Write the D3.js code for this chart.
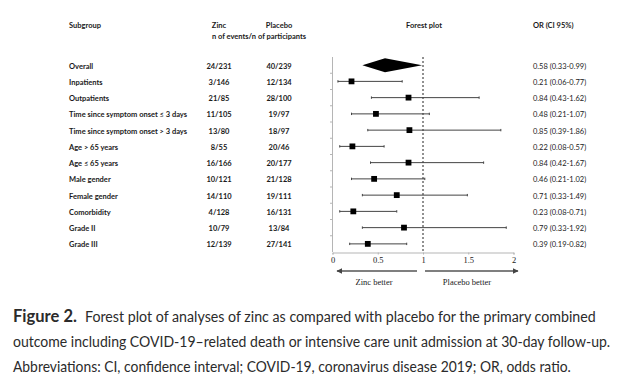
<!DOCTYPE html>
<html><head><meta charset="utf-8">
<script src="https://cdn.jsdelivr.net/npm/d3@7"></script>
<style>
html,body{margin:0;padding:0;background:#fff;}
svg{display:block;}
</style></head>
<body>
<script>
const subgroups = ["Overall","Inpatients","Outpatients","Time since symptom onset ≤ 3 days","Time since symptom onset > 3 days","Age > 65 years","Age ≤ 65 years","Male gender","Female gender","Comorbidity","Grade II","Grade III"];
const zincEvents = ["24/231","3/146","21/85","11/105","13/80","8/55","16/166","10/121","14/110","4/128","10/79","12/139"];
const placeboEvents = ["40/239","12/134","28/100","19/97","18/97","20/46","20/177","21/128","19/111","16/131","13/84","27/141"];
const oddsRatio = [0.58,0.21,0.84,0.48,0.85,0.22,0.84,0.46,0.71,0.23,0.79,0.39];
const ciLow = [0.33,0.06,0.43,0.21,0.39,0.08,0.42,0.21,0.33,0.08,0.33,0.19];
const ciHigh = [0.99,0.77,1.62,1.07,1.86,0.57,1.67,1.02,1.49,0.71,1.92,0.82];
const xTicks = [0,0.5,1,1.5,2];
const captionLines = [
  "Forest plot of analyses of zinc as compared with placebo for the primary combined",
  "outcome including COVID-19–related death or intensive care unit admission at 30-day follow-up.",
  "Abbreviations: CI, confidence interval; COVID-19, coronavirus disease 2019; OR, odds ratio."
];

const W = 632, H = 381;
const svg = d3.select("body").append("svg").attr("width", W).attr("height", H);

const x = d3.scaleLinear().domain([0, 2]).range([332.5, 513.5]);
const y = d3.scaleBand().domain(subgroups).range([57, 252]).padding(0);
const yc = d => y(d) + y.bandwidth() / 2;

const tableFont = "Lato, 'Open Sans', sans-serif";
const serif = "'Liberation Serif', 'DejaVu Serif', serif";
const fmt = d3.format(".2f");
const ink = "#1a1a1a";

// headers
const hdr = svg.append("g").attr("font-family", tableFont).attr("font-weight", "bold")
  .attr("font-size", 7.5).attr("fill", ink);
hdr.append("text").attr("x", 69).attr("y", 28).text("Subgroup");
hdr.append("text").attr("x", 219).attr("y", 28).attr("text-anchor", "middle").text("Zinc");
hdr.append("text").attr("x", 279).attr("y", 28).attr("text-anchor", "middle").text("Placebo");
hdr.append("text").attr("x", 259).attr("y", 39).attr("text-anchor", "middle").text("n of events/n of participants");
hdr.append("text").attr("x", 424).attr("y", 28).attr("text-anchor", "middle").text("Forest plot");
hdr.append("text").attr("x", 533).attr("y", 28).text("OR (CI 95%)");

// table rows
const rows = svg.append("g").attr("font-family", tableFont).attr("font-size", 7.5).attr("fill", ink);
rows.selectAll("text.lab").data(subgroups).join("text").attr("class", "lab")
  .attr("x", 69).attr("y", d => yc(d) + 3.5).attr("font-weight", "bold").text(d => d);
rows.selectAll("text.z").data(subgroups).join("text").attr("class", "z")
  .attr("x", 219).attr("y", d => yc(d) + 3.5).attr("text-anchor", "middle").attr("font-weight", "bold")
  .text((d, i) => zincEvents[i]);
rows.selectAll("text.p").data(subgroups).join("text").attr("class", "p")
  .attr("x", 279).attr("y", d => yc(d) + 3.5).attr("text-anchor", "middle").attr("font-weight", "bold")
  .text((d, i) => placeboEvents[i]);
rows.selectAll("text.or").data(subgroups).join("text").attr("class", "or")
  .attr("x", 533).attr("y", d => yc(d) + 3.5)
  .text((d, i) => `${fmt(oddsRatio[i])} (${fmt(ciLow[i])}-${fmt(ciHigh[i])})`);

// y axis line with tiny ticks at band boundaries
const axG = svg.append("g");
axG.append("line").attr("x1", x(0)).attr("x2", x(0)).attr("y1", 57).attr("y2", 252)
  .attr("stroke", "#b5b5b5").attr("stroke-width", 1);
axG.selectAll("line.yt").data(subgroups.slice(1)).join("line").attr("class", "yt")
  .attr("x1", x(0) - 2.5).attr("x2", x(0)).attr("y1", d => y(d)).attr("y2", d => y(d))
  .attr("stroke", "#b5b5b5");

// x axis
const xAxis = d3.axisBottom(x).tickValues(xTicks).tickSize(2).tickFormat(d3.format("~g"));
const xg = svg.append("g").attr("transform", "translate(0,252.5)").call(xAxis);
xg.select(".domain").attr("stroke", "#b5b5b5");
xg.selectAll(".tick line").attr("stroke", "#b5b5b5");
xg.selectAll(".tick text").attr("font-family", serif).attr("font-size", 8.5).attr("fill", ink).attr("dy", "0.9em").attr("y", 3);

// reference line at 1
svg.append("line").attr("x1", x(1)).attr("x2", x(1)).attr("y1", 57).attr("y2", 252)
  .attr("stroke", "#222").attr("stroke-width", 1).attr("stroke-dasharray", "2,2");

// CI lines
const plot = svg.append("g");
const studies = subgroups.slice(1);
const idx = d => subgroups.indexOf(d);
plot.selectAll("line.ci").data(studies).join("line").attr("class", "ci")
  .attr("x1", d => x(ciLow[idx(d)])).attr("x2", d => x(ciHigh[idx(d)]))
  .attr("y1", yc).attr("y2", yc).attr("stroke", "#444").attr("stroke-width", 1);
plot.selectAll("line.capL").data(studies).join("line").attr("class", "capL")
  .attr("x1", d => x(ciLow[idx(d)])).attr("x2", d => x(ciLow[idx(d)]))
  .attr("y1", d => yc(d) - 1.2).attr("y2", d => yc(d) + 1.2).attr("stroke", "#444");
plot.selectAll("line.capR").data(studies).join("line").attr("class", "capR")
  .attr("x1", d => x(ciHigh[idx(d)])).attr("x2", d => x(ciHigh[idx(d)]))
  .attr("y1", d => yc(d) - 1.2).attr("y2", d => yc(d) + 1.2).attr("stroke", "#444");
const sq = 5.8;
plot.selectAll("rect.pt").data(studies).join("rect").attr("class", "pt")
  .attr("x", d => x(oddsRatio[idx(d)]) - sq / 2).attr("y", d => yc(d) - sq / 2)
  .attr("width", sq).attr("height", sq).attr("fill", "#000");

// overall diamond
const o = 0, oy = yc(subgroups[0]);
plot.append("path")
  .attr("d", `M${x(ciLow[o])},${oy} L${x(oddsRatio[o])},${oy - 7} L${x(ciHigh[o])},${oy} L${x(oddsRatio[o])},${oy + 7} Z`)
  .attr("fill", "#000");

// arrows
const defs = svg.append("defs");
defs.append("marker").attr("id", "ah").attr("viewBox", "0 0 10 10").attr("refX", 9).attr("refY", 5)
  .attr("markerWidth", 4).attr("markerHeight", 4).attr("orient", "auto-start-reverse")
  .append("path").attr("d", "M0,0 L10,5 L0,10 Z").attr("fill", "#444");
svg.append("line").attr("x1", 417).attr("x2", 337).attr("y1", 271).attr("y2", 271)
  .attr("stroke", "#555").attr("stroke-width", 1.5).attr("marker-end", "url(#ah)");
svg.append("line").attr("x1", 425).attr("x2", 518).attr("y1", 271).attr("y2", 271)
  .attr("stroke", "#555").attr("stroke-width", 1.5).attr("marker-end", "url(#ah)");
svg.append("text").attr("x", 374).attr("y", 285).attr("text-anchor", "middle")
  .attr("font-family", serif).attr("font-size", 8.5).attr("fill", ink).text("Zinc better");
svg.append("text").attr("x", 467).attr("y", 285).attr("text-anchor", "middle")
  .attr("font-family", serif).attr("font-size", 8.5).attr("fill", ink).text("Placebo better");

// caption (scaled horizontally to match the reference line widths)
const capFont = "Lato, 'Noto Sans', sans-serif";
const cap = svg.append("g").attr("font-family", capFont).attr("fill", "#2b2b2b");
function fitText(g, str, x0, x1, yb, size, weight) {
  const t = g.append("text").attr("x", 0).attr("y", 0).attr("font-size", size)
    .attr("font-weight", weight).text(str);
  const w = t.node().getComputedTextLength();
  const s = (x1 - x0) / w;
  t.attr("transform", `translate(${x0},${yb}) scale(${s},1)`);
}
fitText(cap, "Figure 2.", 13, 77, 322, 17, "bold");
const capX = [85, 13, 13], capEnd = [596, 611, 571], capY = [322, 347, 372];
captionLines.forEach((line, i) => fitText(cap, line, capX[i], capEnd[i], capY[i], 15, "normal"));
</script>
</body></html>
